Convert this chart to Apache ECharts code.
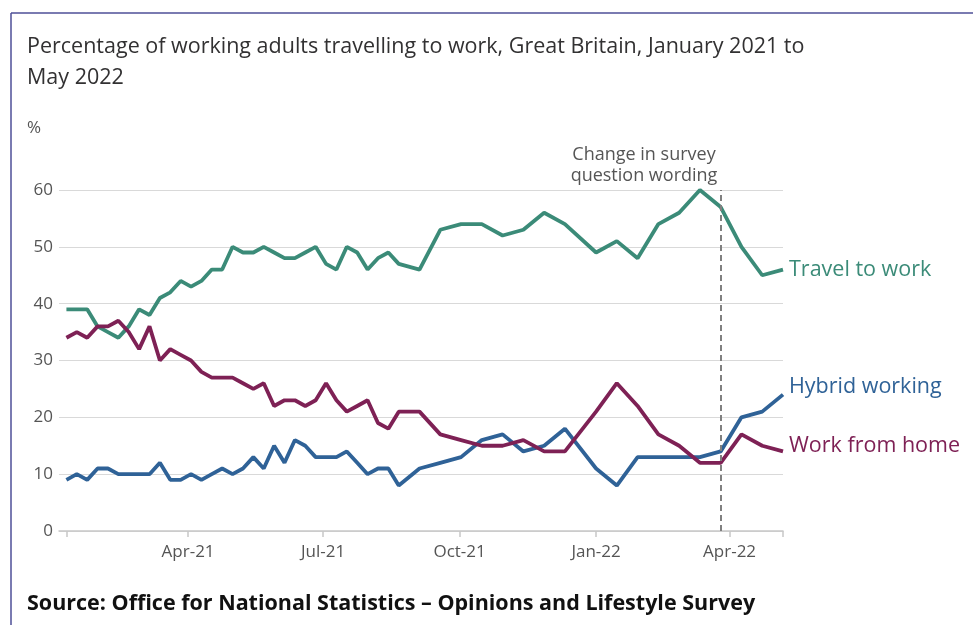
<!DOCTYPE html>
<html>
<head>
<meta charset="utf-8">
<script src="https://cdn.jsdelivr.net/npm/echarts@6/dist/echarts.min.js"></script>
<style>
  html, body { margin: 0; padding: 0; background: #fff; }
  #main { width: 973px; height: 625px; }
</style>
</head>
<body>
<div id="main"></div>
<script>
// survey dates (midpoint of each survey period)
const dates = [
  '2021-01-09', '2021-01-16', '2021-01-23', '2021-01-30', '2021-02-06', '2021-02-13',
  '2021-02-20', '2021-02-27', '2021-03-06', '2021-03-13', '2021-03-20', '2021-03-27',
  '2021-04-03', '2021-04-10', '2021-04-17', '2021-04-24', '2021-05-01', '2021-05-08',
  '2021-05-15', '2021-05-22', '2021-05-29', '2021-06-05', '2021-06-12', '2021-06-19',
  '2021-06-26', '2021-07-03', '2021-07-10', '2021-07-17', '2021-07-24', '2021-07-31',
  '2021-08-07', '2021-08-14', '2021-08-21', '2021-09-04', '2021-09-18', '2021-10-02',
  '2021-10-16', '2021-10-30', '2021-11-13', '2021-11-27', '2021-12-11', '2022-01-01',
  '2022-01-15', '2022-01-29', '2022-02-12', '2022-02-26', '2022-03-12', '2022-03-26',
  '2022-04-09', '2022-04-23', '2022-05-07'
]

const travelToWork = [
  39, 39, 39, 36, 35, 34, 36, 39, 38, 41, 42, 44, 43, 44, 46, 46, 50, 49, 49, 50,
  49, 48, 48, 49, 50, 47, 46, 50, 49, 46, 48, 49, 47, 46, 53, 54, 54, 52, 53, 56,
  54, 49, 51, 48, 54, 56, 60, 57, 50, 45, 46
]
const hybridWorking = [
  9, 10, 9, 11, 11, 10, 10, 10, 10, 12, 9, 9, 10, 9, 10, 11, 10, 11, 13, 11,
  15, 12, 16, 15, 13, 13, 13, 14, 12, 10, 11, 11, 8, 11, 12, 13, 16, 17, 14, 15,
  18, 11, 8, 13, 13, 13, 13, 14, 20, 21, 24
]
const workFromHome = [
  34, 35, 34, 36, 36, 37, 35, 32, 36, 30, 32, 31, 30, 28, 27, 27, 27, 26, 25, 26,
  22, 23, 23, 22, 23, 26, 23, 21, 22, 23, 19, 18, 21, 21, 17, 16, 15, 15, 16, 14,
  14, 21, 26, 22, 17, 15, 12, 12, 17, 15, 14
]

const tickDates = ['2021-04-01', '2021-07-01', '2021-10-01', '2022-01-01', '2022-04-01']
const tickLabels = ['Apr-21', 'Jul-21', 'Oct-21', 'Jan-22', 'Apr-22']
const changeDate = '2022-03-26'

const t = d => new Date(d + 'T00:00:00Z').getTime()
const pairs = arr => arr.map((v, i) => [t(dates[i]), v])

const FONT = '"Open Sans", "Noto Sans", sans-serif'
const GREEN = '#3b8b78'
const BLUE = '#2f6297'
const PURPLE = '#7e2155'

const chart = echarts.init(document.getElementById('main'))
chart.setOption({
  animation: false,
  textStyle: { fontFamily: FONT },
  title: {
    text: 'Percentage of working adults travelling to work, Great Britain, January 2021 to\nMay 2022',
    left: 27,
    top: 31,
    padding: 0,
    textStyle: { fontFamily: FONT, fontSize: 21.5, fontWeight: 'normal', color: '#323132', lineHeight: 31 }
  },
  graphic: [
    // frame
    { type: 'line', shape: { x1: 11, y1: 13, x2: 973, y2: 13 }, style: { stroke: '#4e4f97', lineWidth: 1.5 } },
    { type: 'line', shape: { x1: 11, y1: 13, x2: 11, y2: 625 }, style: { stroke: '#4e4f97', lineWidth: 1.5 } },
    {
      type: 'text', left: 27, top: 120,
      style: { text: '%', fontFamily: FONT, fontSize: 17, fill: '#555' }
    },
    {
      type: 'text', x: 644, y: 144,
      style: { text: 'Change in survey\nquestion wording', fontFamily: FONT, fontSize: 18, lineHeight: 21, fill: '#555', align: 'center', verticalAlign: 'top' }
    },
    {
      type: 'text', left: 27, top: 593,
      style: { text: 'Source: Office for National Statistics \u2013 Opinions and Lifestyle Survey', fontFamily: FONT, fontSize: 21.5, fontWeight: 'bold', fill: '#111' }
    }
  ],
  grid: { left: 59, right: 190, top: 190, bottom: 94 },
  xAxis: {
    type: 'value',
    min: t('2021-01-04'),
    max: t('2022-05-07'),
    splitLine: { show: false },
    axisLine: { lineStyle: { color: '#c8c8c8', width: 1.5 } },
    axisTick: {
      show: true,
      length: 6,
      lineStyle: { color: '#c8c8c8', width: 1.5 },
      customValues: [t(dates[0])].concat(tickDates.map(t), [t(dates[dates.length - 1])])
    },
    axisLabel: {
      customValues: tickDates.map(t),
      formatter: v => tickLabels[tickDates.map(t).indexOf(v)] || '',
      color: '#555',
      fontSize: 17,
      margin: 13
    }
  },
  yAxis: {
    type: 'value',
    min: 0,
    max: 60,
    interval: 10,
    axisLine: { show: false },
    axisTick: { show: false },
    axisLabel: { color: '#555', fontSize: 17, margin: 6 },
    splitLine: { lineStyle: { color: '#d9d9d9', width: 1 } }
  },
  series: [
    {
      name: 'Travel to work',
      type: 'line',
      data: pairs(travelToWork),
      symbol: 'none',
      lineStyle: { color: GREEN, width: 3.8 },
      itemStyle: { color: GREEN },
      endLabel: { show: true, formatter: '{a}', color: GREEN, fontSize: 21.5, distance: 6 },
      markLine: {
        silent: true,
        symbol: 'none',
        label: { show: false },
        lineStyle: { type: [6, 4], color: '#808080', width: 2 },
        data: [{ xAxis: t(changeDate) }]
      }
    },
    {
      name: 'Hybrid working',
      type: 'line',
      data: pairs(hybridWorking),
      symbol: 'none',
      lineStyle: { color: BLUE, width: 3.8 },
      itemStyle: { color: BLUE },
      endLabel: { show: true, formatter: '{a}', color: BLUE, fontSize: 21.5, distance: 6, offset: [0, -8] }
    },
    {
      name: 'Work from home',
      type: 'line',
      data: pairs(workFromHome),
      symbol: 'none',
      lineStyle: { color: PURPLE, width: 3.8 },
      itemStyle: { color: PURPLE },
      endLabel: { show: true, formatter: '{a}', color: PURPLE, fontSize: 21.5, distance: 6, offset: [0, -6] }
    }
  ]
})
</script>
</body>
</html>
